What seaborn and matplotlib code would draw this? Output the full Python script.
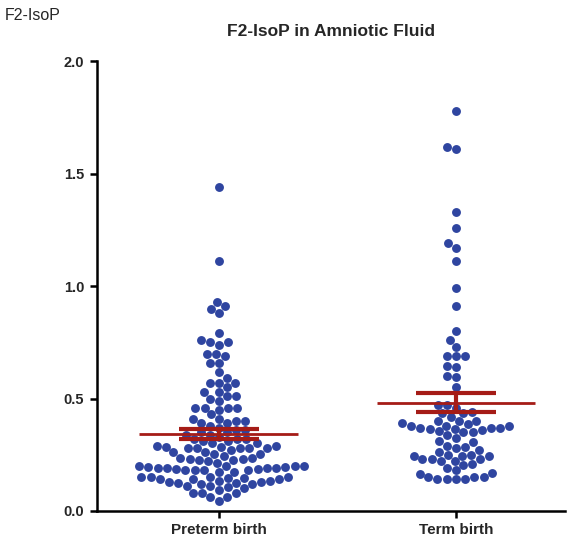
import numpy as np
import pandas as pd
import matplotlib
matplotlib.use("Agg")
import matplotlib.pyplot as plt
import seaborn as sns

categories = ["Preterm birth", "Term birth"]

preterm = [
    1.44, 1.11, 0.93, 0.91, 0.90, 0.88, 0.79, 0.76, 0.75, 0.75, 0.74,
    0.70, 0.70, 0.69, 0.66, 0.66, 0.62, 0.59, 0.57, 0.57, 0.57, 0.55, 0.53, 0.53,
    0.51, 0.49, 0.50, 0.51,
    0.46, 0.46, 0.46, 0.46, 0.45, 0.43,
    0.41, 0.40, 0.40, 0.41,
    0.39, 0.39, 0.37, 0.36, 0.36, 0.38,
    0.35, 0.34, 0.33, 0.34, 0.35,
    0.32, 0.31, 0.30, 0.29, 0.285, 0.28, 0.28, 0.28, 0.28, 0.28, 0.285, 0.29, 0.30, 0.31, 0.32, 0.32,
    0.27, 0.26, 0.255, 0.235, 0.23, 0.225, 0.22, 0.20, 0.215, 0.225, 0.23, 0.235, 0.245, 0.255, 0.26,
    0.20, 0.20, 0.195, 0.19, 0.19, 0.185, 0.18, 0.18, 0.175, 0.175, 0.18, 0.18, 0.185, 0.19, 0.19, 0.195, 0.20,
    0.15, 0.15, 0.145, 0.14, 0.14, 0.135, 0.13, 0.125, 0.12, 0.11, 0.105, 0.11, 0.12, 0.125, 0.13, 0.135, 0.14, 0.145, 0.15, 0.15,
    0.095, 0.08, 0.06, 0.045, 0.06, 0.08, 0.08, 0.10,
]

term = [
    1.78, 1.61, 1.62, 1.33, 1.26, 1.19, 1.17, 1.11, 0.99, 0.91, 0.80, 0.76, 0.73,
    0.69, 0.69, 0.69, 0.64, 0.645, 0.60, 0.595, 0.55,
    0.47, 0.46, 0.44, 0.47,
    0.435, 0.42, 0.435,
    0.40, 0.39, 0.38, 0.38, 0.38, 0.385, 0.40, 0.40,
    0.37, 0.365, 0.355, 0.35, 0.34, 0.325, 0.35, 0.36, 0.365, 0.37, 0.37,
    0.31, 0.29, 0.28, 0.26, 0.27, 0.285, 0.305,
    0.25, 0.245, 0.245, 0.23, 0.22, 0.21, 0.205, 0.22, 0.23, 0.23, 0.245, 0.25,
    0.19, 0.17, 0.15, 0.15, 0.14, 0.14, 0.14, 0.14, 0.15, 0.165, 0.18,
]

yticks = [0.0, 0.5, 1.0, 1.5, 2.0]
ytick_labels = ["0.0", "0.5", "1.0", "1.5", "2.0"]

sns.set_style("ticks")
plt.rcParams["font.family"] = ["Liberation Sans", "DejaVu Sans"]

df = pd.DataFrame({
    "group": [categories[0]] * len(preterm) + [categories[1]] * len(term),
    "value": preterm + term,
})

fig = plt.figure(figsize=(5.69, 5.45), dpi=100)
ax = fig.add_axes([0.170, 0.0624, 0.823, 0.8256])

dot_color = "#2f45a0"
red = "#a51c17"

sns.swarmplot(data=df, x="group", y="value", order=categories, color=dot_color,
              size=6.4, linewidth=0, ax=ax, zorder=2)

for i, vals in enumerate([preterm, term]):
    v = np.asarray(vals)
    m = v.mean()
    se = v.std(ddof=1) / np.sqrt(len(v))
    ax.hlines(m, i - 0.335, i + 0.335, color=red, lw=2.0, zorder=5)
    ax.hlines([m - se, m + se], i - 0.17, i + 0.17, color=red, lw=3.0, zorder=5)
    ax.vlines(i, m - se, m + se, color=red, lw=3.0, zorder=5)

ax.set_ylim(0, 2.0)
ax.set_xlim(-0.515, 1.46)
ax.set_yticks(yticks)
ax.set_yticklabels(ytick_labels, fontsize=10.5, fontweight="bold")
ax.set_xticks([0, 1])
ax.set_xticklabels(categories, fontsize=11, fontweight="bold")
ax.set_xlabel("")
ax.set_ylabel("")
for s in ["left", "bottom"]:
    ax.spines[s].set_linewidth(1.8)
    ax.spines[s].set_color("black")
ax.spines["top"].set_visible(False)
ax.spines["right"].set_visible(False)
ax.tick_params(axis="both", width=1.8, length=5, color="black", pad=4)

ax.set_title("F2-IsoP in Amniotic Fluid", fontsize=12.5, fontweight="bold", pad=18)
fig.text(0.009, 0.986, "F2-IsoP", fontsize=11.5, ha="left", va="top")

fig.savefig("out.png", dpi=100)
